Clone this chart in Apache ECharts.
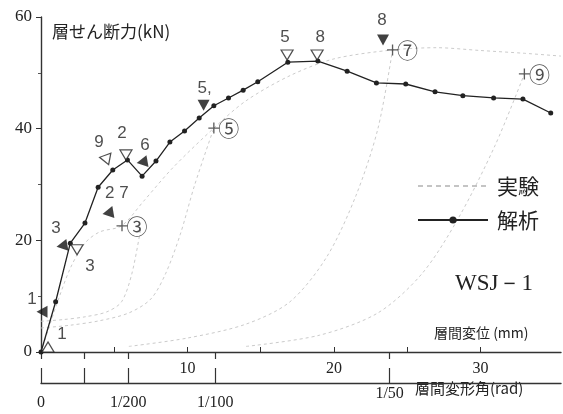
<!DOCTYPE html>
<html><head><meta charset="utf-8">
<script src="https://cdn.jsdelivr.net/npm/echarts@6/dist/echarts.min.js"></script>
<style>html,body{margin:0;padding:0;background:#fff}#c{width:563px;height:414px}</style>
</head><body><div id="c"></div>
<script>
// ---- data ----
const analysisX = [0,1,2,3,3.9,4.9,5.9,6.9,7.85,8.8,9.8,10.8,11.8,12.8,13.8,14.8,16.85,18.9,20.9,22.9,24.9,26.9,28.8,30.9,32.9,34.8];
const analysisY = [0,9.0,19.5,23.1,29.5,32.6,34.4,31.5,34.2,37.6,39.6,41.9,44.1,45.5,46.9,48.4,51.9,52.1,50.3,48.2,48.0,46.6,45.9,45.5,45.3,42.8];

const expEnvX = [0,0.5,1,2,3,4,5.5,7,9,11.8,14,17,20,24,27,30,33,35.5];
const expEnvY = [0,4,8,15,19.5,21.5,22.6,27,33,40.1,45,49.5,52.5,54.1,54.5,54,53.5,53];
const expLoop1X = [0,1.5,3,4.5,5.5,6.2,6.8];
const expLoop1Y = [5.5,5.8,6.3,7.2,9,14,22];
const expLoop2X = [0,2,4,6,7.5,8.5,9.5,10.5,11.8];
const expLoop2Y = [4.3,4.8,5.6,7,9.5,14,21,30,40.1];
const expLoop3X = [6,10,14,17,19.5,21.5,23,24];
const expLoop3Y = [1,2.5,5,9,17,28,40,54.1];
const expLoop4X = [14,19,23,26,28.5,31,33];
const expLoop4Y = [1,3,7,14,24,37,49.8];

const openX = [0.48,2.46,4.5,5.8,16.8,18.85];
const openY = [0.9,18.3,34.4,35.3,53.2,53.2];
const openLabel = ['1','3','9','2','5','8'];

const solidX = [0.07,1.43,4.57,6.9,11.1,23.35];
const solidY = [7.2,19.0,24.9,34.0,44.2,55.9];
const solidLabel = ['1','3','2 7','6','5,','8'];

const peakX = [5.53,11.8,24.0,33.0];
const peakY = [22.6,40.1,54.1,49.8];
const peakLabel = ['③','⑤','⑦','⑨'];

const yTicks = [0,20,40,60];
const mmTicks = [5,10,15,20,25,30];
const mmLabels = [10,20,30];
const storyHeight = 1190; // mm
const radTicks = [0,1/400,1/200,1/100,1/50];
const radLabels = ['0','','1/200','1/100','1/50'];

// ---- styles (not data) ----
const openRot = [0,180,200,180,180,180];
const openOff = [[14,-13],[13,16],[-8,-18],[-4,-22],[-2,-18],[3,-18]];
const solidRot = [90,100,100,100,180,180];
const solidOff = [[-10,-12],[-6,-18],[9,-20],[3,-17],[1,-17],[-1,-20]];

const zip = (xs, ys) => xs.map((x,i)=>[x, ys[i]]);
const ink = '#222';
const serif = '"Liberation Serif", "DejaVu Serif", serif';
const sans = '"Liberation Sans", Arial, sans-serif';
const cjk = '"Noto Sans CJK JP", sans-serif';

const expStyle = {color:'#cbcbcb', width:1, type:[3,3]};
function expSeries(x, y) {
  return {name:'実験', type:'line', xAxisIndex:0, yAxisIndex:0, data: zip(x,y),
    showSymbol:false, symbol:'none', smooth:0.3, lineStyle: expStyle, itemStyle:{color:'#cbcbcb'}, z:1, silent:true};
}
const radVals = radTicks.map(r=>r*storyHeight);
const lastIdx = radTicks.length-1;
function radName(v){
  let best=0, d=1e9;
  radTicks.forEach((r,i)=>{const dd=Math.abs(r*storyHeight-v); if(dd<d){d=dd;best=i;}});
  return radLabels[best];
}

const chart = echarts.init(document.getElementById('c'), null, {renderer:'canvas'});
chart.setOption({
  animation:false,
  backgroundColor:'#fff',
  grid:{left:41, right:2, top:17, bottom:62, containLabel:false},
  legend:{
    orient:'vertical', left:412, top:170, itemWidth:70, itemHeight:9, itemGap:12,
    textStyle:{fontFamily:cjk, fontSize:21, color:ink, padding:[0,0,0,4], lineHeight:22},
    data:[
      {name:'実験', itemStyle:{opacity:0}, lineStyle:{color:'#8a8a8a', width:1.2, type:[5,4]}},
      {name:'解析'}
    ]
  },
  xAxis:[
    { type:'value', min:0, max:35.5, position:'bottom',
      axisLine:{onZero:false, lineStyle:{color:'#333', width:1.4}},
      axisTick:{inside:true, length:5, customValues:mmTicks, lineStyle:{color:'#333'}},
      axisLabel:{customValues:mmLabels, margin:9, fontFamily:serif, fontSize:16, color:ink},
      splitLine:{show:false}
    },
    { type:'value', min:0, max:35.5, position:'bottom', offset:31,
      axisLine:{onZero:false, lineStyle:{color:'#333', width:1.4}},
      axisTick:{inside:true, length:15, customValues: radVals, lineStyle:{color:'#333', width:1.2}},
      axisLabel:{show:false},
      splitLine:{show:false}
    },
    { type:'value', min:0, max:35.5, position:'bottom', offset:31,
      axisLine:{show:false},
      axisTick:{inside:false, length:7, customValues: radVals, lineStyle:{color:'#333', width:1.2}},
      axisLabel:{customValues: radVals.slice(0, lastIdx), margin:12, fontFamily:serif, fontSize:16, color:ink,
        formatter: radName},
      splitLine:{show:false}
    },
    { type:'value', min:0, max:35.5, position:'bottom', offset:31,
      axisLine:{show:false}, axisTick:{show:false},
      axisLabel:{customValues: [radVals[lastIdx]], margin:3, fontFamily:serif, fontSize:16, color:ink,
        formatter: radName},
      splitLine:{show:false}
    }
  ],
  yAxis:{ type:'value', min:0, max:60, interval:20,
    axisLine:{show:true, lineStyle:{color:'#333', width:1.4}},
    axisTick:{show:true, length:5, lineStyle:{color:'#333'}},
    minorTick:{show:true, splitNumber:2, length:3, lineStyle:{color:'#555'}},
    axisLabel:{margin:9, fontFamily:serif, fontSize:17, color:ink,
      formatter:(v)=> yTicks.includes(v) ? String(v) : ''},
    splitLine:{show:false}
  },
  graphic:[
    {type:'text', left:52, top:23, style:{text:'層せん断力(kN)', font:'17px '+cjk, fill:ink}},
    {type:'text', left:434, top:326, style:{text:'層間変位 (mm)', font:'14px '+cjk, fill:ink}},
    {type:'text', left:415, top:381, style:{text:'層間変形角(rad)', font:'15px '+cjk, fill:ink}},
    {type:'text', left:455, top:272, style:{text:'WSJ－1', font:'23px '+serif, fill:ink}}
  ],
  series:[
    expSeries(expEnvX, expEnvY),
    expSeries(expLoop1X, expLoop1Y),
    expSeries(expLoop2X, expLoop2Y),
    expSeries(expLoop3X, expLoop3Y),
    expSeries(expLoop4X, expLoop4Y),
    { name:'解析', type:'line', data: zip(analysisX, analysisY),
      symbol:'circle', symbolSize:5, showSymbol:true,
      lineStyle:{color:'#222', width:1.3}, itemStyle:{color:'#222'}, z:3 },
    { name:'open', type:'scatter', z:4,
      data: openX.map((x,i)=>({value:[x, openY[i]], symbolRotate:openRot[i],
        label:{show:true, formatter:openLabel[i], position:'inside', offset:openOff[i]}})),
      symbol:'triangle', symbolSize:[12,10],
      itemStyle:{color:'#fff', borderColor:'#222', borderWidth:1.2},
      label:{fontFamily:sans, fontSize:17, color:ink}
    },
    { name:'solid', type:'scatter', z:4,
      data: solidX.map((x,i)=>({value:[x, solidY[i]], symbolRotate:solidRot[i],
        label:{show:true, formatter:solidLabel[i], position:'inside', offset:solidOff[i]}})),
      symbol:'triangle', symbolSize:[12,11],
      itemStyle:{color:'#111'},
      label:{fontFamily:sans, fontSize:17, color:ink}
    },
    { name:'peak', type:'scatter', z:4,
      data: peakX.map((x,i)=>({value:[x, peakY[i]],
        label:{show:true, formatter:peakLabel[i], position:'right', distance:-1}})),
      symbol:'path://M0,4.4H10V5.6H0Z M4.4,0H5.6V10H4.4Z', symbolSize:11,
      itemStyle:{color:'#333'},
      label:{fontFamily:cjk, fontSize:21, color:ink}
    }
  ]
});
</script></body></html>
